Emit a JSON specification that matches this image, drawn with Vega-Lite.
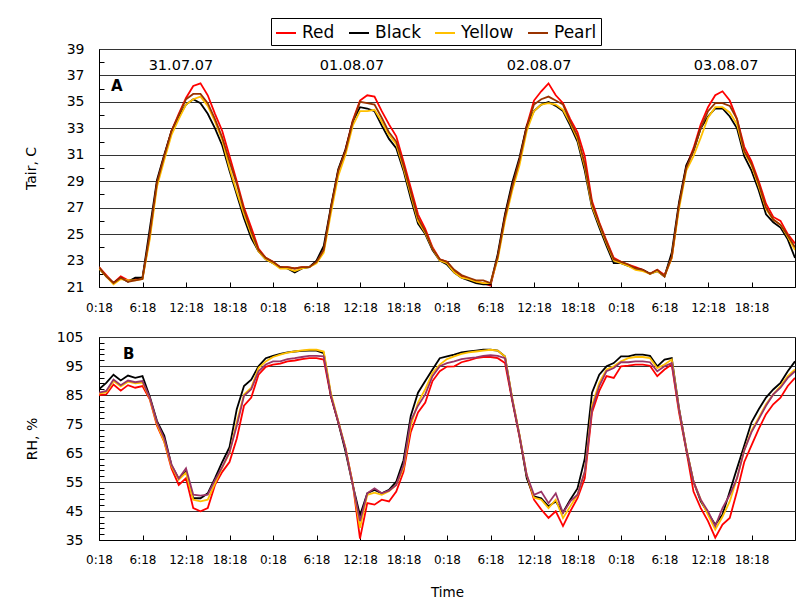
{
  "$schema": "https://vega.github.io/schema/vega-lite/v6.json",
  "background": "white",
  "padding": {"left": 23, "top": 17, "right": 5, "bottom": 2},
  "config": {
    "font": "DejaVu Sans",
    "view": {"stroke": "#000", "strokeWidth": 1},
    "axis": {"domainColor": "#000", "tickColor": "#000", "labelColor": "#000", "titleColor": "#000", "titleFontWeight": "normal", "labelOverlap": false, "tickCount": 200}
  },
  "datasets": {
    "tair": [
      {"h":0,"Red":22.5,"Black":22.4,"Yellow":22.4,"Pearl":22.5},
      {"h":1,"Red":21.9,"Black":21.8,"Yellow":21.8,"Pearl":21.8},
      {"h":2,"Red":21.3,"Black":21.3,"Yellow":21.2,"Pearl":21.3},
      {"h":3,"Red":21.8,"Black":21.7,"Yellow":21.6,"Pearl":21.7},
      {"h":4,"Red":21.5,"Black":21.4,"Yellow":21.5,"Pearl":21.4},
      {"h":5,"Red":21.6,"Black":21.7,"Yellow":21.5,"Pearl":21.5},
      {"h":6,"Red":21.7,"Black":21.7,"Yellow":21.6,"Pearl":21.6},
      {"h":7,"Red":24.8,"Black":25.4,"Yellow":24.6,"Pearl":25.0},
      {"h":8,"Red":28.9,"Black":29.1,"Yellow":28.6,"Pearl":28.9},
      {"h":9,"Red":30.9,"Black":31.0,"Yellow":30.6,"Pearl":30.9},
      {"h":10,"Red":32.8,"Black":32.8,"Yellow":32.5,"Pearl":32.8},
      {"h":11,"Red":34.1,"Black":33.9,"Yellow":33.7,"Pearl":34.0},
      {"h":12,"Red":35.3,"Black":34.8,"Yellow":34.8,"Pearl":35.2},
      {"h":13,"Red":36.2,"Black":35.2,"Yellow":35.2,"Pearl":35.6},
      {"h":14,"Red":36.4,"Black":34.9,"Yellow":35.4,"Pearl":35.6},
      {"h":15,"Red":35.5,"Black":34.1,"Yellow":34.7,"Pearl":34.9},
      {"h":16,"Red":34.1,"Black":33.0,"Yellow":33.5,"Pearl":33.7},
      {"h":17,"Red":32.8,"Black":31.7,"Yellow":32.1,"Pearl":32.3},
      {"h":18,"Red":30.9,"Black":29.8,"Yellow":30.0,"Pearl":30.5},
      {"h":19,"Red":29.0,"Black":28.0,"Yellow":28.2,"Pearl":28.8},
      {"h":20,"Red":27.0,"Black":26.2,"Yellow":26.5,"Pearl":26.8},
      {"h":21,"Red":25.5,"Black":24.7,"Yellow":25.0,"Pearl":25.2},
      {"h":22,"Red":23.9,"Black":23.7,"Yellow":23.7,"Pearl":23.8},
      {"h":23,"Red":23.2,"Black":23.1,"Yellow":23.1,"Pearl":23.2},
      {"h":24,"Red":22.9,"Black":22.8,"Yellow":22.8,"Pearl":22.9},
      {"h":25,"Red":22.5,"Black":22.5,"Yellow":22.4,"Pearl":22.5},
      {"h":26,"Red":22.5,"Black":22.4,"Yellow":22.4,"Pearl":22.5},
      {"h":27,"Red":22.4,"Black":22.1,"Yellow":22.2,"Pearl":22.4},
      {"h":28,"Red":22.5,"Black":22.4,"Yellow":22.4,"Pearl":22.5},
      {"h":29,"Red":22.5,"Black":22.5,"Yellow":22.5,"Pearl":22.5},
      {"h":30,"Red":22.9,"Black":23.0,"Yellow":22.8,"Pearl":22.9},
      {"h":31,"Red":23.8,"Black":24.1,"Yellow":23.6,"Pearl":23.8},
      {"h":32,"Red":27.0,"Black":27.1,"Yellow":26.6,"Pearl":27.0},
      {"h":33,"Red":29.8,"Black":29.9,"Yellow":29.4,"Pearl":29.8},
      {"h":34,"Red":31.4,"Black":31.4,"Yellow":31.0,"Pearl":31.3},
      {"h":35,"Red":33.6,"Black":33.5,"Yellow":33.2,"Pearl":33.5},
      {"h":36,"Red":35.1,"Black":34.6,"Yellow":34.3,"Pearl":35.0},
      {"h":37,"Red":35.5,"Black":34.5,"Yellow":34.3,"Pearl":34.9},
      {"h":38,"Red":35.4,"Black":34.3,"Yellow":34.4,"Pearl":34.8},
      {"h":39,"Red":34.3,"Black":33.2,"Yellow":33.5,"Pearl":33.8},
      {"h":40,"Red":33.3,"Black":32.2,"Yellow":32.5,"Pearl":32.7},
      {"h":41,"Red":32.4,"Black":31.5,"Yellow":31.8,"Pearl":32.0},
      {"h":42,"Red":30.5,"Black":29.8,"Yellow":30.0,"Pearl":30.2},
      {"h":43,"Red":28.5,"Black":27.7,"Yellow":28.0,"Pearl":28.2},
      {"h":44,"Red":26.5,"Black":25.8,"Yellow":26.0,"Pearl":26.2},
      {"h":45,"Red":25.4,"Black":25.0,"Yellow":25.1,"Pearl":25.2},
      {"h":46,"Red":24.0,"Black":23.8,"Yellow":23.9,"Pearl":23.9},
      {"h":47,"Red":23.1,"Black":23.0,"Yellow":23.0,"Pearl":23.1},
      {"h":48,"Red":22.9,"Black":22.7,"Yellow":22.8,"Pearl":22.9},
      {"h":49,"Red":22.2,"Black":22.1,"Yellow":22.1,"Pearl":22.3},
      {"h":50,"Red":21.8,"Black":21.7,"Yellow":21.7,"Pearl":21.9},
      {"h":51,"Red":21.6,"Black":21.5,"Yellow":21.6,"Pearl":21.7},
      {"h":52,"Red":21.4,"Black":21.3,"Yellow":21.4,"Pearl":21.5},
      {"h":53,"Red":21.3,"Black":21.2,"Yellow":21.3,"Pearl":21.5},
      {"h":54,"Red":21.1,"Black":21.2,"Yellow":21.3,"Pearl":21.3},
      {"h":55,"Red":23.3,"Black":23.5,"Yellow":23.1,"Pearl":23.3},
      {"h":56,"Red":26.4,"Black":26.5,"Yellow":26.0,"Pearl":26.3},
      {"h":57,"Red":28.7,"Black":28.9,"Yellow":28.3,"Pearl":28.6},
      {"h":58,"Red":30.6,"Black":30.8,"Yellow":30.2,"Pearl":30.6},
      {"h":59,"Red":33.2,"Black":33.2,"Yellow":32.8,"Pearl":33.1},
      {"h":60,"Red":35.1,"Black":34.3,"Yellow":34.3,"Pearl":34.8},
      {"h":61,"Red":35.8,"Black":34.8,"Yellow":34.8,"Pearl":35.2},
      {"h":62,"Red":36.4,"Black":35.0,"Yellow":34.9,"Pearl":35.4},
      {"h":63,"Red":35.5,"Black":34.7,"Yellow":34.8,"Pearl":35.1},
      {"h":64,"Red":34.9,"Black":34.3,"Yellow":34.4,"Pearl":34.8},
      {"h":65,"Red":33.7,"Black":33.2,"Yellow":33.4,"Pearl":33.5},
      {"h":66,"Red":32.7,"Black":32.0,"Yellow":32.2,"Pearl":32.4},
      {"h":67,"Red":30.9,"Black":29.8,"Yellow":30.1,"Pearl":30.3},
      {"h":68,"Red":27.5,"Black":27.0,"Yellow":27.1,"Pearl":27.3},
      {"h":69,"Red":25.9,"Black":25.5,"Yellow":25.7,"Pearl":25.8},
      {"h":70,"Red":24.5,"Black":24.1,"Yellow":24.3,"Pearl":24.4},
      {"h":71,"Red":23.2,"Black":22.8,"Yellow":23.0,"Pearl":23.1},
      {"h":72,"Red":22.9,"Black":22.8,"Yellow":22.8,"Pearl":22.9},
      {"h":73,"Red":22.7,"Black":22.6,"Yellow":22.6,"Pearl":22.7},
      {"h":74,"Red":22.5,"Black":22.4,"Yellow":22.3,"Pearl":22.4},
      {"h":75,"Red":22.3,"Black":22.3,"Yellow":22.2,"Pearl":22.3},
      {"h":76,"Red":22.0,"Black":22.0,"Yellow":22.0,"Pearl":22.0},
      {"h":77,"Red":22.3,"Black":22.2,"Yellow":22.2,"Pearl":22.3},
      {"h":78,"Red":21.9,"Black":21.8,"Yellow":21.8,"Pearl":21.8},
      {"h":79,"Red":23.2,"Black":23.6,"Yellow":23.2,"Pearl":23.3},
      {"h":80,"Red":27.2,"Black":27.4,"Yellow":26.9,"Pearl":27.2},
      {"h":81,"Red":30.1,"Black":30.2,"Yellow":29.8,"Pearl":30.0},
      {"h":82,"Red":31.5,"Black":31.3,"Yellow":30.9,"Pearl":31.3},
      {"h":83,"Red":33.3,"Black":33.0,"Yellow":32.3,"Pearl":33.0},
      {"h":84,"Red":34.6,"Black":33.9,"Yellow":33.8,"Pearl":34.3},
      {"h":85,"Red":35.5,"Black":34.5,"Yellow":34.6,"Pearl":34.9},
      {"h":86,"Red":35.8,"Black":34.5,"Yellow":34.6,"Pearl":34.9},
      {"h":87,"Red":35.1,"Black":33.9,"Yellow":34.2,"Pearl":34.7},
      {"h":88,"Red":33.7,"Black":33.0,"Yellow":33.3,"Pearl":33.7},
      {"h":89,"Red":31.6,"Black":30.9,"Yellow":31.2,"Pearl":31.3},
      {"h":90,"Red":30.5,"Black":29.8,"Yellow":30.2,"Pearl":30.3},
      {"h":91,"Red":29.0,"Black":28.3,"Yellow":28.6,"Pearl":28.8},
      {"h":92,"Red":27.3,"Black":26.5,"Yellow":26.9,"Pearl":27.0},
      {"h":93,"Red":26.3,"Black":25.9,"Yellow":26.1,"Pearl":26.1},
      {"h":94,"Red":26.0,"Black":25.5,"Yellow":25.7,"Pearl":25.7},
      {"h":95,"Red":25.0,"Black":24.6,"Yellow":24.8,"Pearl":24.9},
      {"h":96,"Red":24.3,"Black":23.2,"Yellow":23.8,"Pearl":24.0}
    ],
    "rh": [
      {"h":0,"Red":85.0,"Black":87.0,"Yellow":85.5,"Pearl":85.8},
      {"h":1,"Red":85.2,"Black":89.2,"Yellow":86.0,"Pearl":86.4},
      {"h":2,"Red":88.6,"Black":92.0,"Yellow":89.8,"Pearl":90.3},
      {"h":3,"Red":86.5,"Black":90.0,"Yellow":88.0,"Pearl":88.4},
      {"h":4,"Red":88.4,"Black":91.7,"Yellow":89.6,"Pearl":90.0},
      {"h":5,"Red":87.5,"Black":90.9,"Yellow":89.0,"Pearl":89.4},
      {"h":6,"Red":88.1,"Black":91.5,"Yellow":89.3,"Pearl":89.8},
      {"h":7,"Red":83.5,"Black":84.5,"Yellow":83.8,"Pearl":84.1},
      {"h":8,"Red":74.4,"Black":76.0,"Yellow":75.0,"Pearl":75.6},
      {"h":9,"Red":68.8,"Black":71.0,"Yellow":69.0,"Pearl":70.0},
      {"h":10,"Red":59.7,"Black":60.8,"Yellow":60.5,"Pearl":61.0},
      {"h":11,"Red":54.0,"Black":56.0,"Yellow":55.8,"Pearl":56.2},
      {"h":12,"Red":56.3,"Black":58.5,"Yellow":58.2,"Pearl":59.7},
      {"h":13,"Red":46.0,"Black":49.4,"Yellow":48.9,"Pearl":50.6},
      {"h":14,"Red":44.9,"Black":49.4,"Yellow":48.3,"Pearl":50.3},
      {"h":15,"Red":46.0,"Black":51.1,"Yellow":48.9,"Pearl":50.6},
      {"h":16,"Red":54.0,"Black":56.3,"Yellow":54.5,"Pearl":55.7},
      {"h":17,"Red":58.5,"Black":61.9,"Yellow":60.0,"Pearl":60.2},
      {"h":18,"Red":61.9,"Black":67.0,"Yellow":65.0,"Pearl":65.3},
      {"h":19,"Red":69.9,"Black":80.1,"Yellow":75.6,"Pearl":74.4},
      {"h":20,"Red":81.3,"Black":88.1,"Yellow":85.2,"Pearl":84.7},
      {"h":21,"Red":84.1,"Black":90.3,"Yellow":87.5,"Pearl":87.0},
      {"h":22,"Red":92.0,"Black":94.9,"Yellow":94.3,"Pearl":93.2},
      {"h":23,"Red":94.7,"Black":97.7,"Yellow":96.6,"Pearl":95.5},
      {"h":24,"Red":95.5,"Black":98.5,"Yellow":98.1,"Pearl":96.6},
      {"h":25,"Red":95.8,"Black":99.2,"Yellow":98.9,"Pearl":96.6},
      {"h":26,"Red":96.6,"Black":99.7,"Yellow":99.6,"Pearl":97.4},
      {"h":27,"Red":96.9,"Black":100.0,"Yellow":100.0,"Pearl":97.7},
      {"h":28,"Red":97.4,"Black":100.2,"Yellow":100.4,"Pearl":98.1},
      {"h":29,"Red":97.7,"Black":100.3,"Yellow":100.6,"Pearl":98.5},
      {"h":30,"Red":97.7,"Black":100.3,"Yellow":100.6,"Pearl":98.5},
      {"h":31,"Red":97.2,"Black":99.4,"Yellow":100.0,"Pearl":98.3},
      {"h":32,"Red":84.3,"Black":84.7,"Yellow":85.5,"Pearl":84.7},
      {"h":33,"Red":75.6,"Black":75.6,"Yellow":76.0,"Pearl":75.8},
      {"h":34,"Red":66.5,"Black":65.5,"Yellow":66.8,"Pearl":66.5},
      {"h":35,"Red":54.5,"Black":54.0,"Yellow":54.3,"Pearl":54.0},
      {"h":36,"Red":35.5,"Black":43.5,"Yellow":39.2,"Pearl":41.5},
      {"h":37,"Red":47.7,"Black":51.1,"Yellow":50.6,"Pearl":51.1},
      {"h":38,"Red":47.2,"Black":52.3,"Yellow":51.3,"Pearl":52.8},
      {"h":39,"Red":48.9,"Black":51.1,"Yellow":50.6,"Pearl":51.1},
      {"h":40,"Red":48.3,"Black":52.3,"Yellow":51.8,"Pearl":52.0},
      {"h":41,"Red":51.7,"Black":55.1,"Yellow":54.0,"Pearl":54.0},
      {"h":42,"Red":58.5,"Black":62.5,"Yellow":59.8,"Pearl":60.8},
      {"h":43,"Red":72.2,"Black":77.8,"Yellow":74.4,"Pearl":76.1},
      {"h":44,"Red":79.0,"Black":85.8,"Yellow":82.4,"Pearl":81.3},
      {"h":45,"Red":82.4,"Black":89.8,"Yellow":87.0,"Pearl":85.2},
      {"h":46,"Red":89.8,"Black":93.8,"Yellow":92.6,"Pearl":91.5},
      {"h":47,"Red":93.2,"Black":97.7,"Yellow":95.5,"Pearl":94.9},
      {"h":48,"Red":94.8,"Black":98.3,"Yellow":97.4,"Pearl":96.0},
      {"h":49,"Red":94.9,"Black":98.9,"Yellow":98.3,"Pearl":96.6},
      {"h":50,"Red":96.3,"Black":99.7,"Yellow":99.2,"Pearl":97.4},
      {"h":51,"Red":96.9,"Black":100.0,"Yellow":99.7,"Pearl":97.7},
      {"h":52,"Red":97.7,"Black":100.3,"Yellow":100.0,"Pearl":98.0},
      {"h":53,"Red":98.1,"Black":100.6,"Yellow":100.3,"Pearl":98.5},
      {"h":54,"Red":98.1,"Black":100.6,"Yellow":100.6,"Pearl":98.7},
      {"h":55,"Red":97.7,"Black":100.3,"Yellow":100.3,"Pearl":98.5},
      {"h":56,"Red":96.0,"Black":98.3,"Yellow":98.3,"Pearl":97.7},
      {"h":57,"Red":83.0,"Black":83.5,"Yellow":84.0,"Pearl":83.5},
      {"h":58,"Red":70.5,"Black":71.0,"Yellow":71.3,"Pearl":71.0},
      {"h":59,"Red":57.0,"Black":56.3,"Yellow":57.4,"Pearl":57.4},
      {"h":60,"Red":48.9,"Black":50.0,"Yellow":49.6,"Pearl":50.6},
      {"h":61,"Red":45.5,"Black":49.4,"Yellow":48.9,"Pearl":51.7},
      {"h":62,"Red":42.6,"Black":46.6,"Yellow":46.0,"Pearl":47.7},
      {"h":63,"Red":44.9,"Black":48.3,"Yellow":48.9,"Pearl":51.1},
      {"h":64,"Red":39.8,"Black":44.5,"Yellow":42.6,"Pearl":44.3},
      {"h":65,"Red":44.9,"Black":48.9,"Yellow":46.6,"Pearl":48.3},
      {"h":66,"Red":49.4,"Black":52.8,"Yellow":50.6,"Pearl":50.6},
      {"h":67,"Red":56.3,"Black":63.0,"Yellow":58.5,"Pearl":58.5},
      {"h":68,"Red":79.0,"Black":85.8,"Yellow":81.3,"Pearl":80.1},
      {"h":69,"Red":86.4,"Black":92.0,"Yellow":89.2,"Pearl":88.1},
      {"h":70,"Red":91.5,"Black":94.9,"Yellow":93.8,"Pearl":93.2},
      {"h":71,"Red":90.9,"Black":96.0,"Yellow":94.9,"Pearl":94.3},
      {"h":72,"Red":94.9,"Black":98.3,"Yellow":96.6,"Pearl":96.3},
      {"h":73,"Red":95.1,"Black":98.3,"Yellow":97.7,"Pearl":96.3},
      {"h":74,"Red":95.5,"Black":98.9,"Yellow":98.1,"Pearl":96.6},
      {"h":75,"Red":95.5,"Black":98.9,"Yellow":98.1,"Pearl":96.6},
      {"h":76,"Red":95.1,"Black":98.5,"Yellow":97.7,"Pearl":96.3},
      {"h":77,"Red":91.5,"Black":94.9,"Yellow":94.3,"Pearl":93.2},
      {"h":78,"Red":93.8,"Black":97.2,"Yellow":95.5,"Pearl":94.9},
      {"h":79,"Red":95.5,"Black":97.7,"Yellow":97.2,"Pearl":96.0},
      {"h":80,"Red":79.0,"Black":80.5,"Yellow":80.1,"Pearl":80.1},
      {"h":81,"Red":66.0,"Black":66.5,"Yellow":66.8,"Pearl":66.5},
      {"h":82,"Red":51.7,"Black":55.1,"Yellow":55.1,"Pearl":55.1},
      {"h":83,"Red":46.0,"Black":48.3,"Yellow":48.9,"Pearl":48.9},
      {"h":84,"Red":41.5,"Black":44.3,"Yellow":43.7,"Pearl":44.9},
      {"h":85,"Red":35.8,"Black":40.3,"Yellow":38.6,"Pearl":39.8},
      {"h":86,"Red":40.3,"Black":43.8,"Yellow":43.0,"Pearl":46.0},
      {"h":87,"Red":42.6,"Black":51.7,"Yellow":48.3,"Pearl":50.6},
      {"h":88,"Red":51.7,"Black":59.7,"Yellow":56.3,"Pearl":56.3},
      {"h":89,"Red":61.9,"Black":67.6,"Yellow":65.9,"Pearl":65.9},
      {"h":90,"Red":67.6,"Black":75.6,"Yellow":72.7,"Pearl":72.2},
      {"h":91,"Red":73.3,"Black":80.1,"Yellow":77.2,"Pearl":76.7},
      {"h":92,"Red":78.4,"Black":84.1,"Yellow":81.8,"Pearl":81.3},
      {"h":93,"Red":81.8,"Black":86.9,"Yellow":85.2,"Pearl":85.2},
      {"h":94,"Red":84.1,"Black":89.2,"Yellow":88.1,"Pearl":87.5},
      {"h":95,"Red":88.1,"Black":93.2,"Yellow":91.5,"Pearl":90.9},
      {"h":96,"Red":90.9,"Black":96.6,"Yellow":93.8,"Pearl":93.2}
    ],
    "dates": [
      {"h":11.3,"y":37.75,"label":"31.07.07"},
      {"h":34.9,"y":37.75,"label":"01.08.07"},
      {"h":60.7,"y":37.75,"label":"02.08.07"},
      {"h":86.5,"y":37.75,"label":"03.08.07"}
    ]
  },
  "spacing": 50,
  "bounds": "flush",
  "resolve": {"scale": {"color": "independent"}, "legend": {"color": "independent"}},
  "vconcat": [
    {
      "width": 696,
      "height": 238,
      "layer": [
        {
          "data": {"name": "tair"},
          "transform": [{"fold": ["Red", "Black", "Yellow", "Pearl"], "as": ["series", "value"]}],
          "mark": {"type": "line", "strokeWidth": 1.8, "clip": true},
          "encoding": {
            "x": {"field": "h", "type": "quantitative",
              "scale": {"domain": [0, 96], "nice": false, "zero": false},
              "axis": {"title": null, "values": [0,6,12,18,24,30,36,42,48,54,60,66,72,78,84,90],
                "labelExpr": "(datum.value % 24) + ':18'", "tickSize": -5, "labelPadding": 20,
                "labelFontSize": 12, "grid": false, "labelFlush": false}},
            "y": {"field": "value", "type": "quantitative",
              "scale": {"domain": [21, 39], "nice": false, "zero": false},
              "axis": {"title": "Tair, C", "titleFontSize": 14, "titlePadding": 28, "format": "d",
                "values": [21,22,23,24,25,26,27,28,29,30,31,32,33,34,35,36,37,38,39],
                "labelExpr": "datum.value % 2 === 1 ? datum.label : ''",
                "grid": true, "gridColor": "#333",
                "gridOpacity": {"condition": {"test": "datum.value % 2 === 1", "value": 1}, "value": 0},
                "tickOpacity": {"condition": {"test": "datum.value % 2 === 1", "value": 0}, "value": 1},
                "tickSize": -5, "labelPadding": 20, "labelFontSize": 14}},
            "color": {"field": "series", "type": "nominal",
              "scale": {"domain": ["Red", "Black", "Yellow", "Pearl"], "range": ["#ff0000", "#000000", "#ffc000", "#993300"]},
              "legend": {"orient": "none", "legendX": 172, "legendY": -31, "direction": "horizontal", "columns": 4,
                "title": null, "symbolType": "stroke", "symbolSize": 400, "symbolStrokeWidth": 2,
                "labelFontSize": 17, "labelColor": "#000", "strokeColor": "#000", "fillColor": "#fff",
                "padding": 4, "columnPadding": 10, "labelOffset": 5}}
          }
        },
        {
          "data": {"name": "dates"},
          "mark": {"type": "text", "fontSize": 14.5, "color": "#000"},
          "encoding": {
            "x": {"field": "h", "type": "quantitative"},
            "y": {"field": "y", "type": "quantitative"},
            "text": {"field": "label"}
          }
        },
        {
          "data": {"values": [{"h": 1.65, "y": 36.2, "label": "A"}]},
          "mark": {"type": "text", "fontSize": 15, "fontWeight": "bold", "align": "left", "color": "#000"},
          "encoding": {
            "x": {"field": "h", "type": "quantitative"},
            "y": {"field": "y", "type": "quantitative"},
            "text": {"field": "label"}
          }
        }
      ]
    },
    {
      "width": 696,
      "height": 203,
      "layer": [
        {
          "data": {"name": "rh"},
          "transform": [{"fold": ["Red", "Black", "Yellow", "Pearl"], "as": ["series", "value"]}],
          "mark": {"type": "line", "strokeWidth": 1.8, "clip": true},
          "encoding": {
            "x": {"field": "h", "type": "quantitative",
              "scale": {"domain": [0, 96], "nice": false, "zero": false},
              "axis": {"title": "Time", "titleFontSize": 13.5, "titlePadding": 20,
                "values": [0,6,12,18,24,30,36,42,48,54,60,66,72,78,84,90],
                "labelExpr": "(datum.value % 24) + ':18'", "tickSize": -5, "labelPadding": 19,
                "labelFontSize": 12, "grid": false, "labelFlush": false}},
            "y": {"field": "value", "type": "quantitative",
              "scale": {"domain": [35, 105], "nice": false, "zero": false},
              "axis": {"title": "RH, %", "titleFontSize": 14, "titlePadding": 17, "format": "d",
                "values": [35,37,39,41,43,45,47,49,51,53,55,57,59,61,63,65,67,69,71,73,75,77,79,81,83,85,87,89,91,93,95,97,99,101,103,105],
                "labelExpr": "(datum.value - 35) % 10 === 0 ? datum.label : ''",
                "grid": true, "gridColor": "#333",
                "gridOpacity": {"condition": {"test": "(datum.value - 35) % 10 === 0", "value": 1}, "value": 0},
                "tickOpacity": {"condition": {"test": "(datum.value - 35) % 10 === 0", "value": 0}, "value": 1},
                "tickSize": -5, "labelPadding": 21, "labelFontSize": 14}},
            "color": {"field": "series", "type": "nominal",
              "scale": {"domain": ["Red", "Black", "Yellow", "Pearl"], "range": ["#ff0000", "#000000", "#ffc000", "#993366"]},
              "legend": null}
          }
        },
        {
          "data": {"values": [{"h": 3.3, "y": 99.2, "label": "B"}]},
          "mark": {"type": "text", "fontSize": 15, "fontWeight": "bold", "align": "left", "color": "#000"},
          "encoding": {
            "x": {"field": "h", "type": "quantitative"},
            "y": {"field": "y", "type": "quantitative"},
            "text": {"field": "label"}
          }
        }
      ]
    }
  ]
}
